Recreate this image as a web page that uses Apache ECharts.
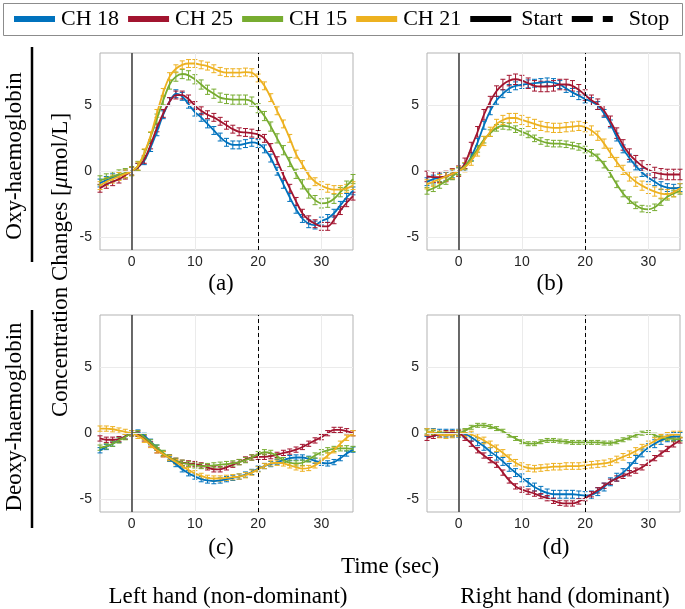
<!DOCTYPE html>
<html>
<head>
<meta charset="utf-8">
<script src="https://cdn.jsdelivr.net/npm/echarts@6/dist/echarts.min.js"></script>
<style>html,body{margin:0;padding:0;background:#fff;}#c{width:685px;height:609px;}</style>
</head>
<body>
<div id="c"></div>
<script>
// ---- data ----
const time = [-5,-4,-3,-2,-1,0,1,2,3,4,5,6,7,8,9,10,11,12,13,14,15,16,17,18,19,20,21,22,23,24,25,26,27,28,29,30,31,32,33,34,35];
const channels = ['CH 18','CH 25','CH 15','CH 21'];
const xTicks = [0,10,20,30];
const yTicks = [-5,0,5];
const startTime = 0;
const stopTime = 20;
const panelLabels = ['(a)','(b)','(c)','(d)'];

// (a) Oxy, left hand
const a18 = [-0.9,-0.7,-0.5,-0.35,-0.2,0,0.3,0.8,1.8,3.0,4.3,5.3,5.9,5.7,5.1,4.5,4.1,3.6,3.1,2.6,2.2,2.0,2.0,2.1,2.2,2.1,1.7,1.0,0.0,-1.0,-2.0,-2.9,-3.6,-4.0,-4.1,-3.8,-3.6,-3.2,-2.6,-2.0,-1.5];
const a25 = [-1.3,-1.0,-0.8,-0.6,-0.3,0,0.3,0.9,2.0,3.3,4.4,5.3,5.8,5.8,5.5,5.0,4.6,4.3,4.1,3.8,3.5,3.2,3.0,2.95,2.9,2.8,2.5,1.8,0.8,-0.3,-1.3,-2.3,-3.2,-3.7,-4.0,-4.2,-4.2,-3.7,-3.0,-2.4,-1.9];
const a15 = [-0.7,-0.55,-0.4,-0.25,-0.15,0,0.4,1.3,2.6,4.0,5.4,6.6,7.2,7.4,7.3,7.0,6.6,6.2,5.9,5.6,5.5,5.45,5.45,5.45,5.3,4.8,4.2,3.4,2.5,1.6,0.7,-0.2,-1.0,-1.7,-2.2,-2.45,-2.4,-2.1,-1.6,-1.1,-0.6];
const a21 = [-1.1,-0.8,-0.6,-0.4,-0.2,0,0.4,1.4,2.7,4.4,6.0,7.2,7.8,8.1,8.2,8.2,8.1,8.0,7.8,7.6,7.5,7.5,7.5,7.55,7.5,7.1,6.5,5.6,4.6,3.6,2.5,1.3,0.5,-0.3,-0.8,-1.1,-1.3,-1.4,-1.4,-1.3,-1.1];
const errA = [0.3,0.3,0.35,0.3];

// (b) Oxy, right hand
const b18 = [-0.8,-0.6,-0.5,-0.4,-0.2,0,0.3,1.1,2.2,3.5,4.6,5.4,5.9,6.3,6.5,6.6,6.65,6.7,6.75,6.8,6.75,6.6,6.3,6.0,5.75,5.5,5.3,5.0,4.4,3.6,2.6,1.7,1.0,0.4,-0.1,-0.5,-0.8,-1.1,-1.25,-1.3,-1.25];
const b25 = [-0.4,-0.45,-0.45,-0.4,-0.2,0,0.6,1.8,3.0,4.3,5.3,6.1,6.6,6.9,7.0,6.9,6.7,6.5,6.45,6.45,6.5,6.6,6.6,6.5,6.2,5.8,5.4,5.1,4.6,3.8,2.9,2.0,1.3,0.8,0.4,0.1,-0.1,-0.2,-0.25,-0.25,-0.25];
const b15 = [-1.5,-1.3,-1.05,-0.75,-0.4,0,0.4,1.0,1.7,2.4,2.9,3.3,3.45,3.4,3.2,3.0,2.8,2.5,2.3,2.15,2.1,2.1,2.05,1.95,1.85,1.65,1.4,1.05,0.5,-0.2,-1.0,-1.7,-2.2,-2.6,-2.85,-2.9,-2.75,-2.35,-1.95,-1.7,-1.5];
const b21 = [-1.0,-0.8,-0.6,-0.4,-0.2,0,0.3,0.8,1.5,2.3,3.0,3.6,3.9,4.05,4.05,3.9,3.75,3.6,3.45,3.35,3.3,3.3,3.35,3.4,3.45,3.35,3.1,2.7,2.1,1.4,0.7,0.1,-0.4,-0.8,-1.1,-1.35,-1.55,-1.7,-1.75,-1.6,-1.3];
const errB = [0.3,0.4,0.25,0.35];

// (c) Deoxy, left hand
const c18 = [-1.3,-1.05,-0.8,-0.5,-0.25,0,0.05,-0.2,-0.65,-1.1,-1.55,-1.95,-2.35,-2.75,-3.05,-3.3,-3.5,-3.6,-3.65,-3.6,-3.5,-3.4,-3.3,-3.15,-2.95,-2.7,-2.5,-2.35,-2.2,-2.05,-1.9,-1.85,-1.85,-1.95,-2.1,-2.25,-2.3,-2.2,-1.9,-1.55,-1.25];
const c25 = [-0.4,-0.5,-0.5,-0.45,-0.25,0,-0.05,-0.4,-0.85,-1.3,-1.6,-1.85,-2.1,-2.25,-2.3,-2.35,-2.45,-2.6,-2.75,-2.75,-2.6,-2.4,-2.2,-2.0,-1.85,-1.8,-1.8,-1.75,-1.65,-1.5,-1.4,-1.25,-1.05,-0.8,-0.55,-0.3,0.0,0.25,0.25,0.15,0.0];
const c15 = [-1.1,-1.0,-0.8,-0.55,-0.3,0,0.0,-0.3,-0.7,-1.1,-1.5,-1.85,-2.1,-2.25,-2.35,-2.45,-2.5,-2.5,-2.45,-2.4,-2.35,-2.3,-2.2,-2.05,-1.85,-1.6,-1.45,-1.5,-1.75,-2.05,-2.25,-2.3,-2.25,-2.0,-1.7,-1.45,-1.3,-1.2,-1.15,-1.15,-1.2];
const c21 = [0.35,0.35,0.3,0.2,0.1,0,-0.2,-0.5,-0.9,-1.3,-1.6,-1.9,-2.2,-2.5,-2.8,-3.05,-3.25,-3.4,-3.45,-3.45,-3.4,-3.35,-3.3,-3.2,-3.0,-2.75,-2.5,-2.3,-2.25,-2.3,-2.45,-2.6,-2.7,-2.65,-2.45,-2.1,-1.7,-1.3,-0.8,-0.35,0.0];
const errC = [0.2,0.2,0.2,0.2];

// (d) Deoxy, right hand
const d18 = [0.05,0.05,0.0,0.0,0.0,0,-0.05,-0.3,-0.65,-1.0,-1.4,-1.75,-2.15,-2.6,-3.0,-3.4,-3.75,-4.1,-4.35,-4.55,-4.65,-4.65,-4.65,-4.65,-4.7,-4.75,-4.7,-4.45,-4.1,-3.7,-3.35,-3.0,-2.55,-2.0,-1.5,-1.1,-0.8,-0.55,-0.35,-0.25,-0.25];
const d25 = [-0.35,-0.2,-0.1,0.0,0.0,0,-0.35,-0.8,-1.3,-1.7,-2.05,-2.4,-3.0,-3.6,-4.05,-4.3,-4.45,-4.6,-4.8,-4.95,-5.15,-5.3,-5.35,-5.35,-5.2,-4.95,-4.65,-4.35,-4.0,-3.7,-3.45,-3.25,-3.05,-2.85,-2.6,-2.25,-1.9,-1.55,-1.2,-0.85,-0.55];
const d15 = [0.1,0.05,0.0,-0.05,-0.05,0,0.2,0.45,0.6,0.6,0.5,0.35,0.15,-0.15,-0.4,-0.65,-0.8,-0.8,-0.65,-0.55,-0.55,-0.6,-0.65,-0.7,-0.7,-0.7,-0.7,-0.7,-0.75,-0.75,-0.65,-0.5,-0.35,-0.15,0.0,0.05,-0.15,-0.35,-0.4,-0.45,-0.45];
const d21 = [0.1,0.05,-0.1,-0.15,-0.1,0,0.0,-0.1,-0.3,-0.55,-0.85,-1.15,-1.5,-1.9,-2.25,-2.5,-2.65,-2.7,-2.65,-2.6,-2.55,-2.55,-2.5,-2.5,-2.5,-2.45,-2.4,-2.35,-2.3,-2.2,-2.0,-1.8,-1.6,-1.35,-1.1,-0.85,-0.6,-0.35,-0.2,-0.1,-0.1];
const errD = [0.3,0.2,0.15,0.25];

// ---- styling / layout ----
const colors = ['#0072BD','#A2142F','#77AC30','#EDB120'];
const panels = [
  {vals:[a18,a25,a15,a21], err:errA},
  {vals:[b18,b25,b15,b21], err:errB},
  {vals:[c18,c25,c15,c21], err:errC},
  {vals:[d18,d25,d15,d21], err:errD}
];
const gridPos = [
  {left:100, top:53, width:253, height:197},
  {left:427, top:53, width:253, height:197},
  {left:100, top:315, width:253, height:197},
  {left:427, top:315, width:253, height:197}
];
const serif = 'Liberation Serif';
const sans = 'Liberation Sans';

const grids = [], xAxes = [], yAxes = [], series = [];
gridPos.forEach((g, i) => {
  grids.push(Object.assign({show:true, borderColor:'#b3b3b3', borderWidth:1, backgroundColor:'transparent'}, g));
  xAxes.push({
    type:'value', gridIndex:i, min:-5, max:35, interval:5,
    axisLine:{show:false}, axisTick:{show:false}, splitLine:{show:false},
    axisLabel:{fontFamily:sans, fontSize:14, color:'#262626', margin:5,
      formatter: v => xTicks.includes(v) ? String(v) : ''}
  });
  yAxes.push({
    type:'value', gridIndex:i, min:-6, max:9, interval:1,
    axisLine:{show:false}, axisTick:{show:false}, splitLine:{show:false},
    axisLabel:{fontFamily:sans, fontSize:14, color:'#262626', margin:8,
      formatter: v => yTicks.includes(v) ? String(v) : ''}
  });
  // grid lines
  series.push({
    type:'line', name:'grid'+i, xAxisIndex:i, yAxisIndex:i, data:[], silent:true, z:1,
    markLine:{silent:true, symbol:'none', label:{show:false}, animation:false,
      lineStyle:{color:'#ebebeb', width:1, type:'solid'},
      data: xTicks.map(v => ({xAxis:v})).concat(yTicks.map(v => ({yAxis:v})))}
  });
  const p = panels[i];
  p.vals.forEach((v, k) => {
    const e = p.err[k];
    const col = colors[k];
    series.push({
      type:'custom', name:channels[k]+' err'+i, xAxisIndex:i, yAxisIndex:i, z:3, silent:true,
      data: time.map((t, j) => [t, v[j]-e, v[j]+e]),
      encode:{x:0, y:[1,2]},
      renderItem:(params, api) => {
        const x = api.value(0);
        const lo = api.coord([x, api.value(1)]);
        const hi = api.coord([x, api.value(2)]);
        const hw = 2.5;
        const st = {stroke:col, lineWidth:1, fill:null};
        return {type:'group', children:[
          {type:'line', shape:{x1:lo[0], y1:lo[1], x2:hi[0], y2:hi[1]}, style:st},
          {type:'line', shape:{x1:lo[0]-hw, y1:lo[1], x2:lo[0]+hw, y2:lo[1]}, style:st},
          {type:'line', shape:{x1:hi[0]-hw, y1:hi[1], x2:hi[0]+hw, y2:hi[1]}, style:st}
        ]};
      }
    });
    series.push({
      type:'line', name:channels[k], xAxisIndex:i, yAxisIndex:i, z:4,
      data: time.map((t, j) => [t, v[j]]),
      smooth:0.3, showSymbol:false, symbol:'none',
      lineStyle:{color:col, width:1.8}, itemStyle:{color:col}
    });
  });
  series.push({
    type:'line', name:'Start', xAxisIndex:i, yAxisIndex:i, data:[], z:5, itemStyle:{color:'#000'},
    markLine:{silent:true, symbol:'none', label:{show:false}, animation:false,
      lineStyle:{color:'#3a3a3a', width:1.5, type:'solid'}, data:[{xAxis:startTime}]}
  });
  series.push({
    type:'line', name:'Stop', xAxisIndex:i, yAxisIndex:i, data:[], z:5, itemStyle:{color:'#000'},
    markLine:{silent:true, symbol:'none', label:{show:false}, animation:false,
      lineStyle:{color:'#000', width:1, type:[4,3]}, data:[{xAxis:stopTime}]}
  });
});

const legendData = channels.map((c, k) => ({name:c, icon:'rect', itemStyle:{color:colors[k]}}))
  .concat([
    {name:'Start', icon:'rect', itemStyle:{color:'#000'},
      textStyle:{fontFamily:serif, fontSize:22, color:'#000', padding:[0,3,0,5]}},
    {name:'Stop', icon:'path://M0,0H21V6H0Z M31,0H41V6H31Z', itemStyle:{color:'#000'},
      textStyle:{fontFamily:serif, fontSize:22, color:'#000', padding:[0,0,0,11]}}
  ]);

const textEl = (text, x, y, extra) => Object.assign({
  type:'text', x:x, y:y, silent:true,
  style:{text:text, fontFamily:serif, fontSize:23, fill:'#000', align:'center', verticalAlign:'middle'}
}, extra || {});

const labelPos = [[221,284],[550,284],[221,548],[556,548]];
const graphics = [
  {type:'rect', shape:{x:3.5, y:3.5, width:679, height:32}, style:{fill:null, stroke:'#8c8c8c', lineWidth:1}, silent:true},
  {type:'line', shape:{x1:32, y1:47, x2:32, y2:262}, style:{stroke:'#000', lineWidth:2.5}, silent:true},
  {type:'line', shape:{x1:32, y1:310, x2:32, y2:528}, style:{stroke:'#000', lineWidth:2.5}, silent:true},
  textEl('Oxy-haemoglobin', 15, 156, {rotation:Math.PI/2}),
  textEl('Deoxy-haemoglobin', 15, 417, {rotation:Math.PI/2}),
  {type:'text', x:61, y:265, rotation:Math.PI/2, silent:true,
    style:{text:'Concentration Changes [{i|μ}mol/L]', fontFamily:serif, fontSize:23, fill:'#000',
      align:'center', verticalAlign:'middle',
      rich:{i:{fontFamily:serif, fontStyle:'italic', fontSize:23, fill:'#000'}}}},
  textEl('Time (sec)', 390, 567),
  textEl('Left hand (non-dominant)', 228, 597),
  textEl('Right hand (dominant)', 565, 597)
].concat(panelLabels.map((t, i) => textEl(t, labelPos[i][0], labelPos[i][1])));

const chart = echarts.init(document.getElementById('c'), null, {renderer:'canvas'});
chart.setOption({
  animation:false,
  backgroundColor:'#fff',
  legend:{
    left:14, top:8, padding:0, itemGap:9, itemWidth:41, itemHeight:6,
    selectedMode:false,
    textStyle:{fontFamily:serif, fontSize:22, color:'#000', padding:[0,0,0,1]},
    data:legendData
  },
  grid:grids, xAxis:xAxes, yAxis:yAxes, series:series,
  graphic:graphics
});
</script>
</body>
</html>
